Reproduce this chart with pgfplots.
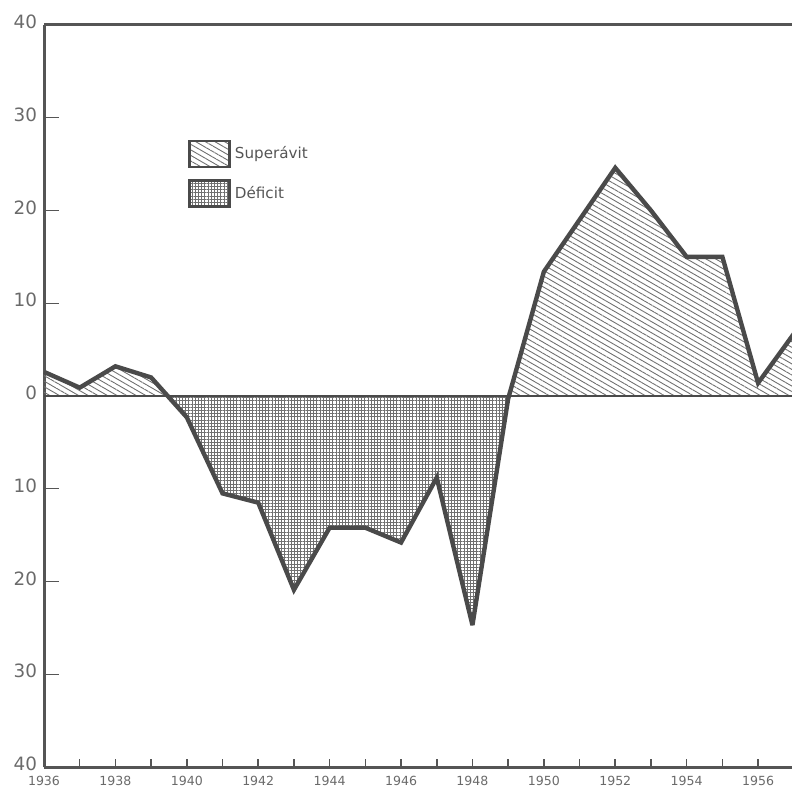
\documentclass[border=0pt]{standalone}
\usepackage{fontspec}
\setmainfont{DejaVu Sans}
\usepackage{pgfplots}
\pgfplotsset{compat=1.18}
\usetikzlibrary{patterns.meta}
\definecolor{linecol}{HTML}{4A4A4A}
\definecolor{axcol}{HTML}{555555}
\definecolor{txtcol}{HTML}{6A6A6A}
\definecolor{patcol}{HTML}{707070}
\tikzset{
  supstyle/.style={pattern={Lines[angle=-30,distance=2.4bp,line width=0.45bp]}, pattern color=patcol},
  defstyle/.style={pattern={Hatch[angle=0,distance=1.6bp,line width=0.4bp]}, pattern color=patcol},
}
\begin{document}
\begin{tikzpicture}
\useasboundingbox (-22bp,-10.5bp) rectangle (374bp,383.5bp);
\begin{axis}[
  at={(0,0)}, anchor=south west,
  scale only axis, width=374bp, height=371bp,
  xmin=1936, xmax=1956.95, ymin=-40, ymax=40,
  axis x line=bottom, axis y line=left,
  axis line style={-, draw=axcol, line width=1.5bp},
  clip=false,
  xtick={1936,1938,...,1956},
  xticklabels={1936,1938,1940,1942,1944,1946,1948,1950,1952,1954,1956},
  minor xtick={1936,1937,...,1956},
  ytick={-40,-30,...,40},
  yticklabels={40,30,20,10,0,10,20,30,40},
  tick align=inside,
  major tick length=7.5bp, minor tick length=4bp,
  major x tick style={draw=none},
  minor x tick style={draw=axcol, line width=0.8bp},
  y tick style={draw=axcol, line width=0.6bp},
  x tick label style={font=\fontsize{6.3}{7}\selectfont, text=txtcol, yshift=-1bp},
  y tick label style={font=\fontsize{9.2}{10}\selectfont, text=txtcol, yshift=1.5bp},
  legend style={at={(rel axis cs:0.1925,0.846)}, anchor=north west, draw=none, fill=none,
    inner sep=0pt, row sep=5.5bp, font=\fontsize{7.6}{8}\selectfont, text=axcol,
    cells={anchor=west}},
  legend image code/.code={\draw[#1, line width=1.3bp, draw=linecol] (0bp,-6.5bp) rectangle (20bp,6.5bp);},
]
\addlegendimage{supstyle}
\addlegendentry{Superávit}
\addlegendimage{defstyle}
\addlegendentry{Déficit}

\begin{scope}
\clip (axis cs:1936,0) rectangle (axis cs:1956.95,40);
\addplot[forget plot, draw=none, supstyle] coordinates {(1936,0)
(1936,2.6) (1937,0.9) (1938,3.2) (1939,2.0) (1940,-2.3) (1941,-10.5) (1942,-11.5)
(1943,-20.9) (1944,-14.2) (1945,-14.2) (1946,-15.8) (1947,-8.8) (1948,-24.7)
(1949,-0.3) (1950,13.4) (1951,19.0) (1952,24.6) (1953,20.0) (1954,15.0)
(1955,15.0) (1956,1.4) (1957,6.7) (1957,0)} -- cycle;
\end{scope}
\begin{scope}
\clip (axis cs:1936,0) rectangle (axis cs:1956.95,-40);
\addplot[forget plot, draw=none, defstyle] coordinates {(1936,0)
(1936,2.6) (1937,0.9) (1938,3.2) (1939,2.0) (1940,-2.3) (1941,-10.5) (1942,-11.5)
(1943,-20.9) (1944,-14.2) (1945,-14.2) (1946,-15.8) (1947,-8.8) (1948,-24.7)
(1949,-0.3) (1950,13.4) (1951,19.0) (1952,24.6) (1953,20.0) (1954,15.0)
(1955,15.0) (1956,1.4) (1957,6.7) (1957,0)} -- cycle;
\end{scope}
\addplot[forget plot, draw=linecol, line width=1bp] coordinates {(1936,0) (1956.95,0)};
\addplot[forget plot, draw=linecol, line width=2.2bp, line join=miter, miter limit=3] coordinates {
(1936,2.6) (1937,0.9) (1938,3.2) (1939,2.0) (1940,-2.3) (1941,-10.5) (1942,-11.5)
(1943,-20.9) (1944,-14.2) (1945,-14.2) (1946,-15.8) (1947,-8.8) (1948,-24.7)
(1949,-0.3) (1950,13.4) (1951,19.0) (1952,24.6) (1953,20.0) (1954,15.0)
(1955,15.0) (1956,1.4) (1957,6.7)};
\draw[draw=axcol, line width=1.5bp] (rel axis cs:0,1) -- (rel axis cs:1.01,1);
\end{axis}
\end{tikzpicture}
\end{document}
